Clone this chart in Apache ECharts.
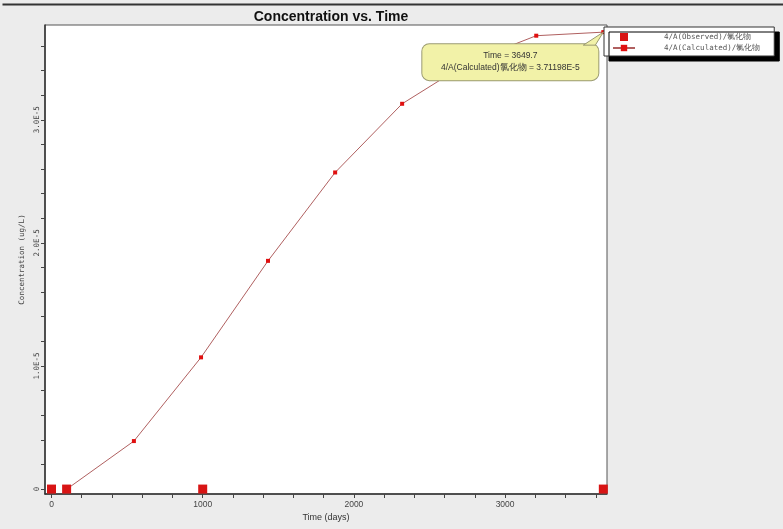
<!DOCTYPE html>
<html><head><meta charset="utf-8">
<script src="https://cdn.jsdelivr.net/npm/echarts@6/dist/echarts.min.js"></script>
<style>html,body{margin:0;padding:0;background:#ececec;}#c{width:783px;height:529px;}</style>
</head><body><div id="c"></div>
<script>
const obsTime = [0, 100, 1000, 3649.7];
const obsConc = [0, 0, 0, 0];
const calcTime = [101.7, 545, 989, 1432, 1876, 2319, 2763, 3206, 3649.7];
const calcConc = [0, 0.39e-5, 1.07e-5, 1.854e-5, 2.572e-5, 3.13e-5, 3.47e-5, 3.683e-5, 3.71198e-5];
const xLabelValues = [0, 1000, 2000, 3000];
const yLabelValues = [0, 1e-5, 2e-5, 3e-5];
const xTickValues = [0,200,400,600,800,1000,1200,1400,1600,1800,2000,2200,2400,2600,2800,3000,3200,3400,3600];
const yTickValues = [0,0.2e-5,0.4e-5,0.6e-5,0.8e-5,1e-5,1.2e-5,1.4e-5,1.6e-5,1.8e-5,2e-5,2.2e-5,2.4e-5,2.6e-5,2.8e-5,3e-5,3.2e-5,3.4e-5,3.6e-5];
const obsName = '4/A(Observed)/氯化物';
const calcName = '4/A(Calculated)/氯化物';
const calloutIndex = calcTime.length - 1;

const chart = echarts.init(document.getElementById('c'), null, {renderer:'canvas'});
const font = 'Liberation Sans';
const calcData = calcTime.map((t, i) => {
  const item = {value: [t, calcConc[i]]};
  if (i === calloutIndex) {
    item.label = {
      show: true,
      position: [-91, 14],
      align: 'center',
      verticalAlign: 'top',
      width: 164,
      padding: [6, 6],
      lineHeight: 12,
      fontFamily: font,
      fontSize: 8.5,
      color: '#333',
      backgroundColor: '#f2f2a8',
      borderColor: '#9a9a70',
      borderWidth: 1,
      borderRadius: 7,
      formatter: p => 'Time = ' + p.value[0] + '\n4/A(Calculated)氯化物 = ' + p.value[1].toExponential(5).toUpperCase()
    };
  }
  return item;
});

chart.setOption({
  backgroundColor: '#ececec',
  animation: false,
  title: {
    text: 'Concentration vs. Time', left: 326, top: 5, textAlign: 'center',
    textStyle: {fontFamily: font, fontSize: 14, fontWeight: 'bold', color: '#111'}
  },
  legend: {
    orient: 'vertical', left: 604, top: 27, itemGap: 3,
    itemWidth: 22, itemHeight: 8,
    padding: [6, 14, 4, 8],
    backgroundColor: '#fff', borderColor: '#333', borderWidth: 1,
    shadowColor: '#000', shadowBlur: 0, shadowOffsetX: 5, shadowOffsetY: 5,
    textStyle: {fontFamily: 'DejaVu Sans Mono', fontSize: 7.5, color: '#555', padding: [0, 0, 0, 24]},
    data: [{name: obsName, icon: 'path://M0,0h10v10h-10z'}, {name: calcName}]
  },
  grid: {left: 45, right: 176, top: 25, bottom: 35, show: true, backgroundColor: '#fff', borderColor: '#555', borderWidth: 1},
  xAxis: {
    type: 'value', min: -43, max: 3674,
    name: 'Time (days)', nameLocation: 'middle', nameGap: 19, nameMoveOverlap: false,
    nameTextStyle: {fontFamily: font, fontSize: 9, color: '#333'},
    axisLine: {show: true, onZero: false, lineStyle: {color: '#333', width: 1.5}},
    axisTick: {show: true, length: 4, customValues: xTickValues, lineStyle: {color: '#444'}},
    axisLabel: {customValues: xLabelValues, fontFamily: font, fontSize: 8.5, color: '#444', margin: 6,
      formatter: v => String(v)},
    splitLine: {show: false}
  },
  yAxis: {
    type: 'value', min: -4e-7, max: 3.77e-5,
    name: 'Concentration (ug/L)', nameLocation: 'middle', nameGap: 19, nameRotate: 90, nameMoveOverlap: false,
    nameTextStyle: {fontFamily: 'DejaVu Sans Mono', fontSize: 7.5, color: '#444'},
    axisLine: {show: true, onZero: false, lineStyle: {color: '#333', width: 1.5}},
    axisTick: {show: true, length: 4, customValues: yTickValues, lineStyle: {color: '#444'}},
    axisLabel: {customValues: yLabelValues, rotate: 90, fontFamily: 'DejaVu Sans Mono', fontSize: 7.5, color: '#444', margin: 4,
      formatter: v => v === 0 ? '0' : (v / 1e-5).toFixed(1) + 'E-5'},
    splitLine: {show: false}
  },
  series: [
    {
      name: calcName, type: 'line', data: calcData,
      symbol: 'rect', symbolSize: 4, showAllSymbol: true,
      itemStyle: {color: '#e01010'},
      lineStyle: {color: '#b06060', width: 1},
      z: 3
    },
    {
      name: obsName, type: 'scatter', data: obsTime.map((t, i) => [t, obsConc[i]]),
      symbol: 'rect', symbolSize: 9,
      itemStyle: {color: '#d81414', opacity: 1},
      z: 4
    }
  ]
});

// callout wedge toward the annotated point, placed via the chart's own scales
const pt = chart.convertToPixel({seriesIndex: 0}, [calcTime[calloutIndex], calcConc[calloutIndex]]);
chart.setOption({graphic: [
  {type: 'line', left: 0, top: 2, shape: {x1: 0, y1: 0, x2: 783, y2: 0}, style: {stroke: '#333', lineWidth: 2}},
  {type: 'polygon', z: 100, shape: {points: [[pt[0] - 20, pt[1] + 13], [pt[0], pt[1]], [pt[0] - 8, pt[1] + 13]]},
   style: {fill: '#f2f2a8', stroke: '#9a9a70', lineWidth: 1}}
]});
</script>
</body></html>
